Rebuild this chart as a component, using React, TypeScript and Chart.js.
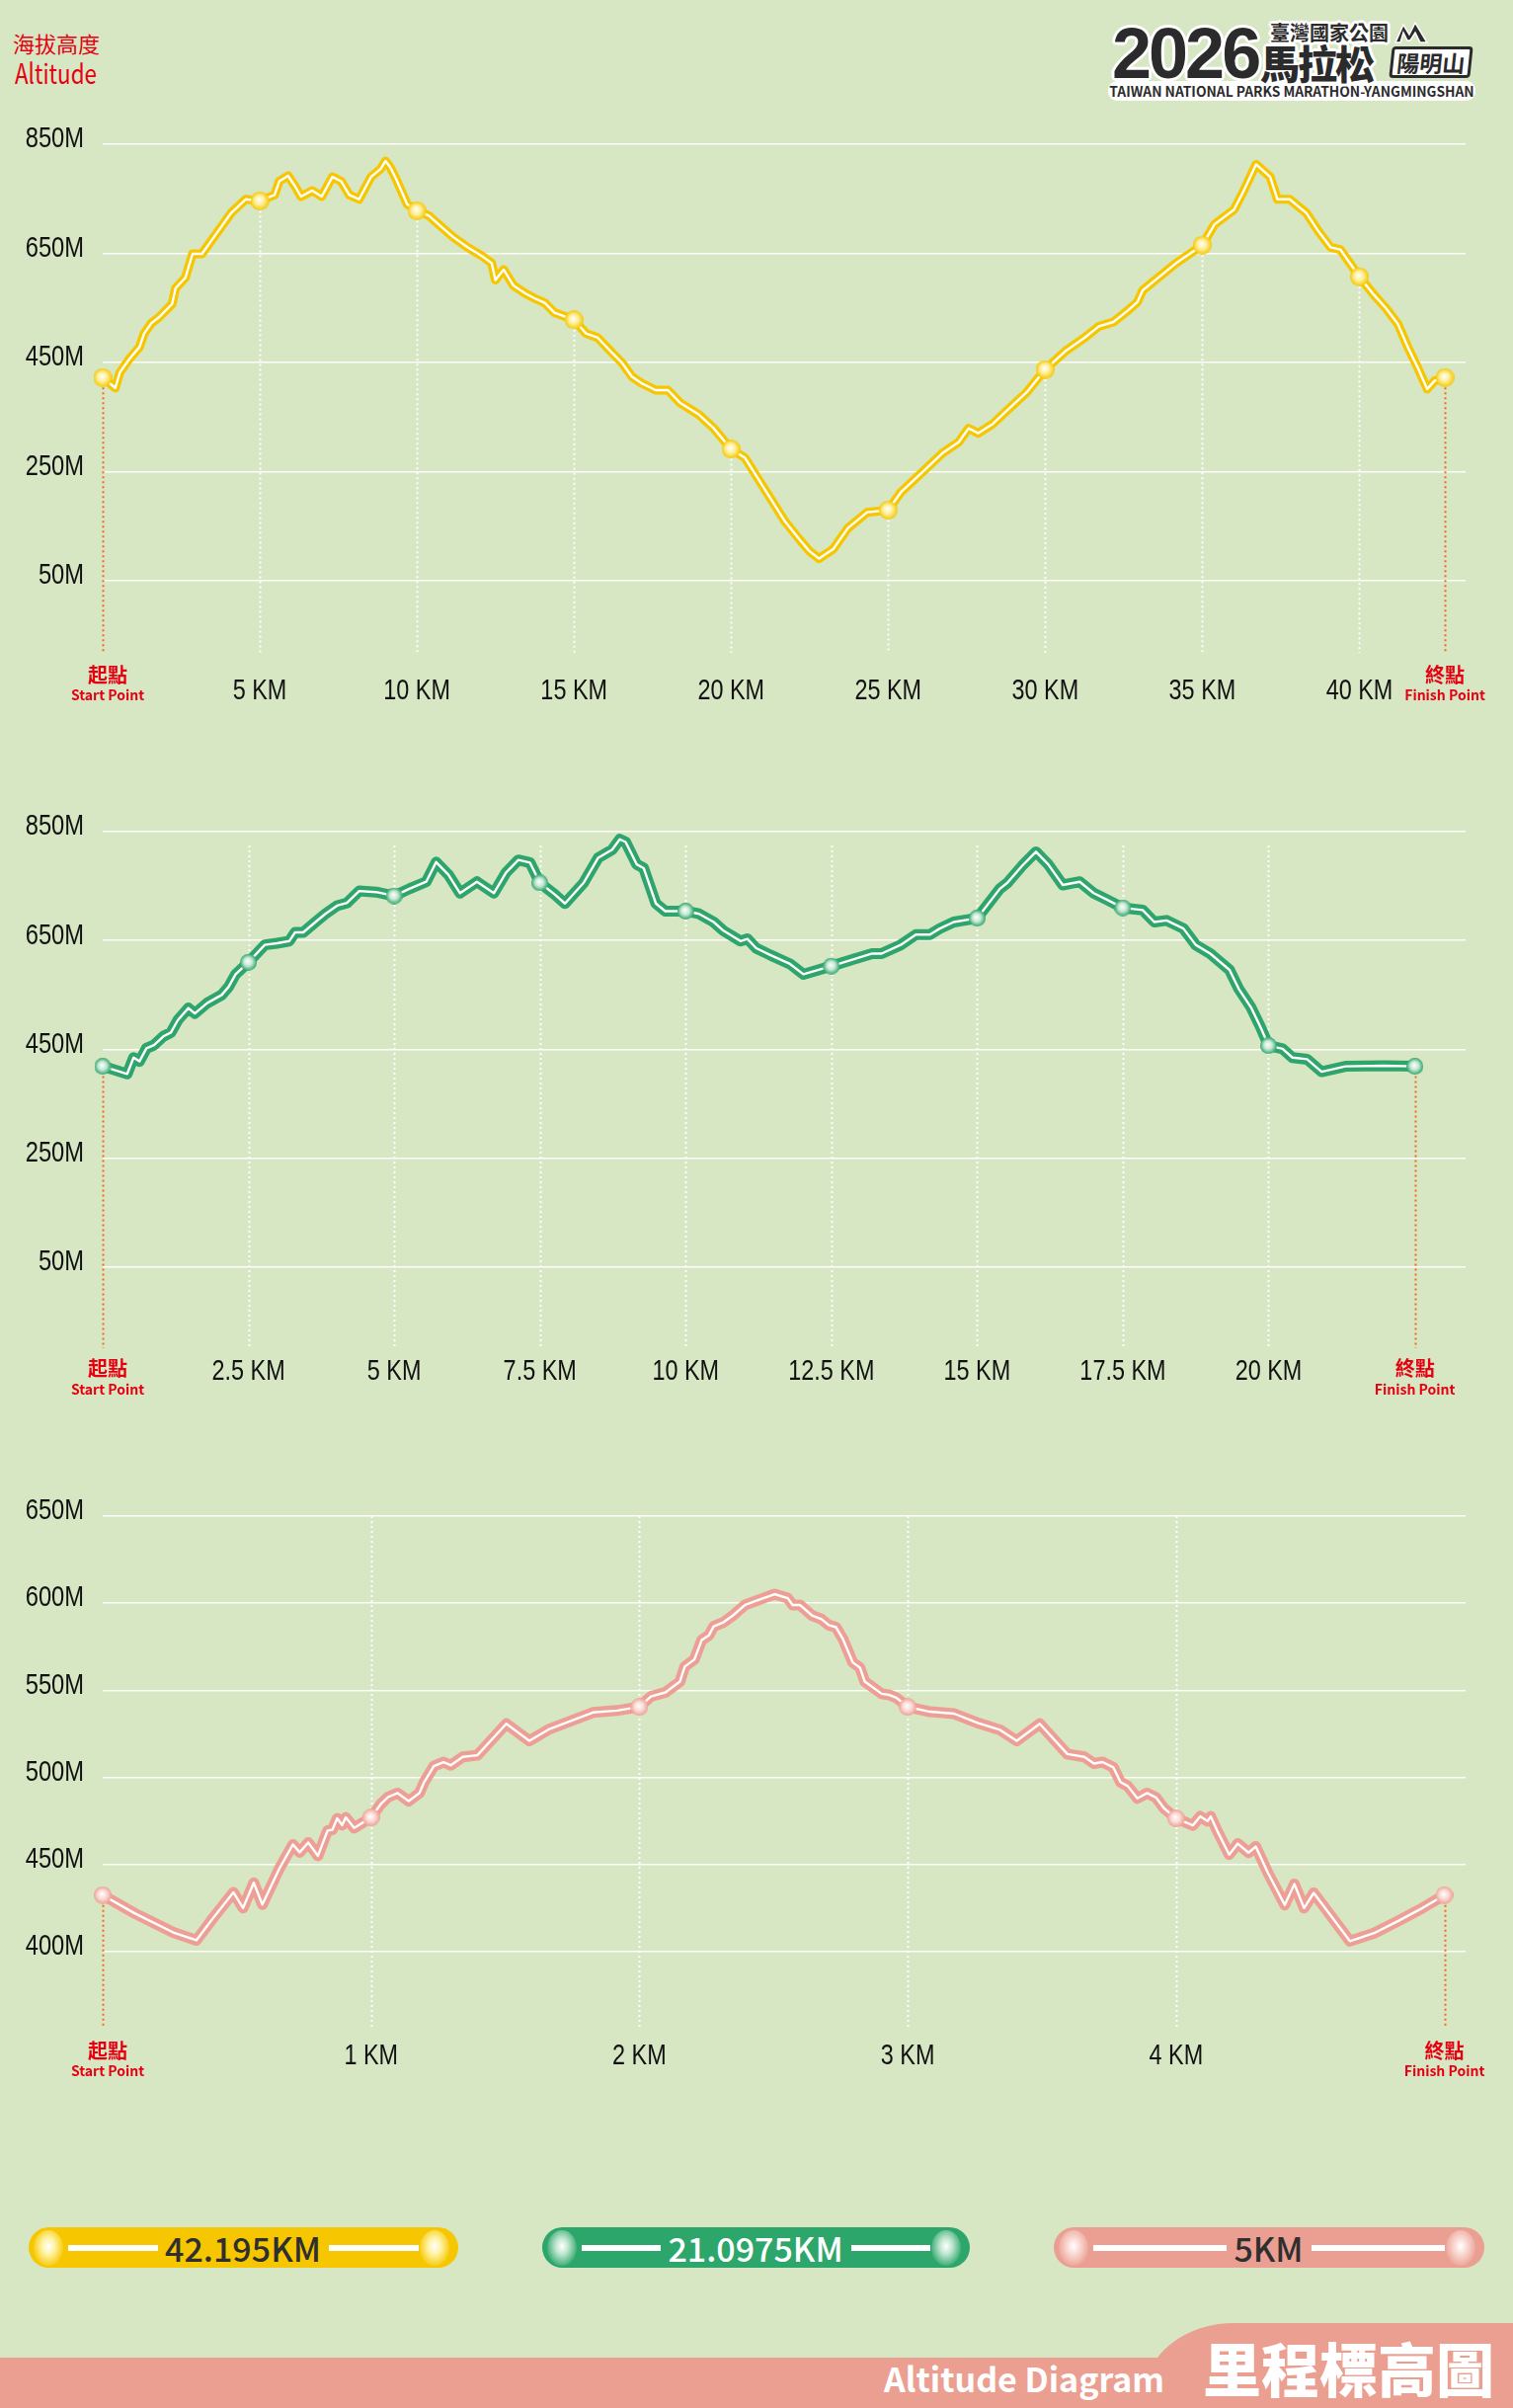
import React, { useEffect, useRef } from 'react';
import { Chart, registerables } from 'chart.js';

Chart.register(...registerables);

// ---------- Full marathon 42.195 KM ----------
const fullKm = [0, 0.4, 0.55, 0.86, 1.17, 1.32, 1.55, 1.78, 2.21, 2.32, 2.63, 2.86, 3.16, 3.47, 3.78, 4.09, 4.55, 5, 5.47, 5.62, 5.9, 6.12, 6.31, 6.67, 6.97, 7.31, 7.59, 7.85, 8.16, 8.54, 8.85, 9.0, 9.15, 9.34, 9.69, 10, 10.38, 10.77, 11.15, 11.61, 12.07, 12.38, 12.5, 12.76, 13.07, 13.46, 13.76, 14.07, 14.38, 15, 15.38, 15.76, 16.22, 16.53, 16.84, 17.14, 17.6, 17.99, 18.37, 18.98, 19.45, 20, 20.44, 20.8, 21.26, 21.72, 22.18, 22.49, 22.8, 23.26, 23.72, 24.33, 25, 25.41, 26.02, 26.72, 27.25, 27.56, 27.87, 28.33, 28.79, 29.41, 30, 30.63, 31.25, 31.71, 32.17, 32.63, 32.94, 33.1, 33.55, 34.17, 35, 35.39, 36.01, 36.32, 36.71, 37.16, 37.39, 37.78, 38.31, 38.7, 39.08, 39.39, 40, 40.46, 40.85, 41.23, 41.54, 41.85, 42.16, 42.39, 42.72];
const fullAlt = [422, 403, 432, 457, 478, 503, 522, 532, 557, 586, 605, 649, 649, 674, 699, 724, 749, 746, 757, 782, 792, 773, 754, 765, 754, 790, 782, 757, 749, 790, 805, 819, 808, 786, 740, 728, 719, 699, 680, 661, 645, 632, 601, 620, 591, 576, 567, 559, 541, 528, 503, 495, 467, 449, 424, 412, 399, 399, 376, 354, 329, 291, 275, 242, 200, 158, 125, 104, 90, 108, 146, 175, 179, 212, 245, 283, 304, 329, 320, 337, 362, 395, 437, 470, 495, 516, 524, 545, 561, 582, 603, 632, 665, 703, 730, 765, 813, 790, 749, 749, 724, 690, 661, 657, 607, 574, 549, 520, 478, 441, 401, 416, 422];
const fullMarkerKm = [0, 5, 10, 15, 20, 25, 30, 35, 40, 42.72];
const fullTickKm = [5, 10, 15, 20, 25, 30, 35, 40];
const fullTickLabels = ['5 KM', '10 KM', '15 KM', '20 KM', '25 KM', '30 KM', '35 KM', '40 KM'];
const fullYTicks = [50, 250, 450, 650, 850];

// ---------- Half marathon 21.0975 KM ----------
const halfKm = [0, 0.42, 0.53, 0.63, 0.75, 0.88, 1.04, 1.17, 1.29, 1.47, 1.58, 1.79, 2.04, 2.16, 2.28, 2.5, 2.78, 2.99, 3.2, 3.3, 3.44, 3.65, 3.82, 4.02, 4.19, 4.4, 4.69, 5, 5.26, 5.55, 5.72, 5.93, 6.13, 6.42, 6.71, 6.92, 7.13, 7.33, 7.5, 7.75, 7.93, 8.25, 8.5, 8.74, 8.87, 8.97, 9.16, 9.28, 9.49, 9.65, 10, 10.23, 10.48, 10.65, 10.94, 11.06, 11.21, 11.46, 11.79, 12.02, 12.5, 12.86, 13.2, 13.36, 13.69, 13.95, 14.19, 14.36, 14.6, 15, 15.39, 15.52, 15.77, 16.01, 16.22, 16.47, 16.76, 17.0, 17.21, 17.5, 17.84, 18.04, 18.25, 18.54, 18.75, 19.0, 19.33, 19.49, 19.7, 19.87, 20, 20.24, 20.41, 20.66, 20.91, 21.32, 21.98, 22.51];
const halfAlt = [419, 405, 435, 428, 452, 458, 474, 481, 504, 526, 516, 535, 550, 565, 588, 610, 642, 645, 649, 665, 665, 684, 699, 714, 719, 741, 739, 732, 745, 758, 794, 771, 737, 758, 737, 775, 798, 793, 756, 735, 718, 756, 802, 817, 836, 831, 790, 783, 718, 704, 704, 699, 684, 668, 649, 653, 636, 623, 607, 588, 603, 615, 626, 626, 642, 661, 661, 672, 684, 691, 745, 756, 787, 813, 790, 752, 758, 737, 726, 710, 706, 684, 687, 672, 642, 626, 596, 561, 527, 489, 457, 451, 435, 432, 409, 419, 420, 419];
const halfMarkerKm = [0, 2.5, 5, 7.5, 10, 12.5, 15, 17.5, 20, 22.51];
const halfTickKm = [2.5, 5, 7.5, 10, 12.5, 15, 17.5, 20];
const halfTickLabels = ['2.5 KM', '5 KM', '7.5 KM', '10 KM', '12.5 KM', '15 KM', '17.5 KM', '20 KM'];
const halfYTicks = [50, 250, 450, 650, 850];

// ---------- 5 KM ----------
const fiveKm = [0, 0.119, 0.263, 0.349, 0.415, 0.487, 0.523, 0.563, 0.595, 0.658, 0.709, 0.734, 0.766, 0.802, 0.838, 0.856, 0.874, 0.892, 0.906, 0.937, 1, 1.036, 1.063, 1.099, 1.14, 1.18, 1.198, 1.234, 1.27, 1.297, 1.342, 1.396, 1.504, 1.59, 1.665, 1.737, 1.827, 1.917, 2, 2.043, 2.097, 2.151, 2.169, 2.205, 2.232, 2.259, 2.277, 2.313, 2.349, 2.394, 2.454, 2.504, 2.553, 2.571, 2.598, 2.643, 2.679, 2.706, 2.733, 2.759, 2.795, 2.822, 2.84, 2.903, 2.93, 2.957, 3, 3.083, 3.173, 3.263, 3.344, 3.406, 3.492, 3.595, 3.658, 3.694, 3.726, 3.766, 3.793, 3.82, 3.856, 3.892, 3.925, 3.955, 4, 4.063, 4.09, 4.117, 4.129, 4.153, 4.198, 4.23, 4.27, 4.297, 4.342, 4.405, 4.441, 4.477, 4.513, 4.648, 4.738, 4.828, 4.918, 5];
const fiveAlt = [432.4, 422, 411, 406.5, 420, 434, 425, 439.5, 427, 447.6, 461.5, 457, 462.6, 455, 469.5, 470, 476.5, 472.6, 477, 471, 477, 484.6, 488.7, 491, 486.4, 491, 497.3, 506.5, 508.8, 507, 511.8, 512.7, 530.8, 521, 527.8, 532, 537.3, 538.4, 540.5, 546.5, 548.8, 555, 563.6, 567.7, 578.8, 581.6, 586.7, 589, 593, 599, 602.4, 605.2, 602.9, 599, 599, 593, 590.8, 587.4, 586.2, 579.3, 566, 563, 555, 548, 547.4, 545.8, 540.5, 537.7, 536.6, 531.2, 527.3, 521, 530.8, 513.4, 511.8, 508, 508.8, 505.8, 497.3, 495, 488, 491, 488.5, 482.3, 476.5, 472.5, 477.6, 474.9, 477.6, 469.5, 455.7, 462, 456.8, 460.3, 445.3, 426.8, 438.8, 425, 433.7, 406, 410.6, 417.6, 425, 432.4];
const fiveMarkerKm = [0, 1, 2, 3, 4, 5];
const fiveTickKm = [1, 2, 3, 4];
const fiveTickLabels = ['1 KM', '2 KM', '3 KM', '4 KM'];
const fiveYTicks = [400, 450, 500, 550, 600, 650];

const BG = '#d7e6c3';
const RED = '#e60012';
const SANS = '"Liberation Sans", Arial, sans-serif';
const CJK = '"Noto Sans CJK TC", "Noto Sans CJK SC", "Noto Sans", sans-serif';

function makeSphere(base: string, light: string, size: number) {
  const c = document.createElement('canvas');
  c.width = size;
  c.height = size;
  const g = c.getContext('2d')!;
  const r = size / 2;
  const grad = g.createRadialGradient(r * 0.9, r * 0.85, 0, r, r, r);
  grad.addColorStop(0, '#ffffff');
  grad.addColorStop(0.5, light);
  grad.addColorStop(1, base);
  g.fillStyle = grad;
  g.beginPath();
  g.arc(r, r, r, 0, Math.PI * 2);
  g.fill();
  return c;
}

function narrowText(ctx: CanvasRenderingContext2D, text: string, x: number, y: number, align: CanvasTextAlign, sx: number) {
  ctx.save();
  ctx.translate(x, y);
  ctx.scale(sx, 1);
  ctx.font = '30px ' + SANS;
  ctx.textAlign = align;
  ctx.textBaseline = 'middle';
  ctx.fillText(text, 0, 0);
  ctx.restore();
}

type Cfg = {
  km: number[];
  alt: number[];
  markerKm: number[];
  tickKm: number[];
  tickLabels: string[];
  yTicks: number[];
  yMin: number;
  yMax: number;
  xMax: number;
  color: string;
  light: string;
  lineWidth: number;
  markerSize: number;
  top: number;
  height: number;
  padTop: number;
  padBottom: number;
  dotFromLine: boolean;
  dotTop: number;
  labelDy: number;
  startDy1: number;
  startDy2: number;
};

function Profile({ cfg }: { cfg: Cfg }) {
  const ref = useRef<HTMLCanvasElement | null>(null);
  useEffect(() => {
    const canvas = ref.current;
    if (!canvas) return;
    const pts = cfg.km.map((x, i) => ({ x, y: cfg.alt[i] }));
    const pts2 = cfg.km.map((x, i) => ({ x, y: cfg.alt[i] }));
    const markerSet = new Set(cfg.markerKm);
    const sphere = makeSphere(cfg.color, cfg.light, cfg.markerSize);
    const finishKm = cfg.markerKm[cfg.markerKm.length - 1];
    const altAt = (k: number) => {
      const i = cfg.km.indexOf(k);
      return i >= 0 ? cfg.alt[i] : cfg.yMax;
    };
    const decor = {
      id: 'decor',
      beforeDatasetsDraw(chart: any) {
        const { ctx, chartArea } = chart;
        const xs = chart.scales.x;
        const ys = chart.scales.y;
        ctx.save();
        ctx.lineWidth = 2;
        ctx.setLineDash([2, 3]);
        ctx.strokeStyle = 'rgba(255,255,255,0.95)';
        cfg.tickKm.forEach((k) => {
          const px = Math.round(xs.getPixelForValue(k)) + 0.5;
          const top = cfg.dotFromLine ? ys.getPixelForValue(altAt(k)) : chartArea.top + cfg.dotTop;
          ctx.beginPath();
          ctx.moveTo(px, top);
          ctx.lineTo(px, chartArea.bottom);
          ctx.stroke();
        });
        ctx.strokeStyle = '#f26b1d';
        [0, finishKm].forEach((k) => {
          const px = Math.round(xs.getPixelForValue(k)) + 0.5;
          const top = ys.getPixelForValue(altAt(k));
          ctx.beginPath();
          ctx.moveTo(px, top);
          ctx.lineTo(px, chartArea.bottom);
          ctx.stroke();
        });
        ctx.restore();
        ctx.save();
        ctx.fillStyle = '#111111';
        cfg.yTicks.forEach((v) => {
          narrowText(ctx, v + 'M', 85, ys.getPixelForValue(v) - 5, 'right', 0.79);
        });
        ctx.restore();
      },
      afterDraw(chart: any) {
        const { ctx, chartArea } = chart;
        const xs = chart.scales.x;
        ctx.save();
        ctx.fillStyle = '#111111';
        cfg.tickKm.forEach((k, i) => {
          narrowText(ctx, cfg.tickLabels[i], xs.getPixelForValue(k), chartArea.bottom + cfg.labelDy, 'center', 0.78);
        });
        ctx.textAlign = 'center';
        ctx.textBaseline = 'middle';
        ctx.fillStyle = RED;
        const sx = xs.getPixelForValue(0) + 5;
        const fx = xs.getPixelForValue(finishKm);
        ctx.font = 'bold 20px ' + CJK;
        ctx.fillText('起點', sx, chartArea.bottom + cfg.startDy1);
        ctx.fillText('終點', fx, chartArea.bottom + cfg.startDy1);
        ctx.font = 'bold 14px ' + CJK;
        ctx.fillText('Start Point', sx, chartArea.bottom + cfg.startDy2);
        ctx.fillText('Finish Point', fx, chartArea.bottom + cfg.startDy2);
        ctx.restore();
      },
    };
    const chart = new Chart(canvas, {
      type: 'line',
      data: {
        datasets: [
          {
            data: pts2,
            borderColor: '#ffffff',
            borderWidth: 2.4,
            tension: 0,
            clip: false,
            borderJoinStyle: 'round',
            pointRadius: (c: any) => (c.raw && markerSet.has(c.raw.x) ? 9 : 0),
            pointHoverRadius: 0,
            pointHitRadius: 0,
            pointStyle: sphere as any,
          } as any,
          {
            data: pts,
            borderColor: cfg.color,
            borderWidth: cfg.lineWidth,
            pointRadius: 0,
            pointHoverRadius: 0,
            tension: 0,
            clip: false,
            borderJoinStyle: 'round',
            borderCapStyle: 'round',
          } as any,
        ],
      },
      options: {
        animation: false,
        responsive: false,
        events: [],
        layout: { padding: { top: cfg.padTop, right: 48, bottom: cfg.padBottom, left: 0 } },
        plugins: { legend: { display: false }, tooltip: { enabled: false } },
        scales: {
          x: { type: 'linear', min: 0, max: cfg.xMax, display: false },
          y: {
            min: cfg.yMin,
            max: cfg.yMax,
            afterBuildTicks: (s: any) => {
              s.ticks = cfg.yTicks.map((v) => ({ value: v }));
            },
            afterFit: (s: any) => {
              s.width = 104;
            },
            grid: { color: 'rgba(255,255,255,0.95)', lineWidth: 1.5, drawTicks: false },
            border: { display: false },
            ticks: { display: false },
          },
        },
      } as any,
      plugins: [decor],
    });
    return () => chart.destroy();
  }, [cfg]);
  return (
    <canvas
      ref={ref}
      width={1532}
      height={cfg.height}
      style={{ position: 'absolute', left: 0, top: cfg.top, width: 1532, height: cfg.height }}
    />
  );
}

const fullCfg: Cfg = {
  km: fullKm, alt: fullAlt, markerKm: fullMarkerKm, tickKm: fullTickKm, tickLabels: fullTickLabels,
  yTicks: fullYTicks, yMin: -82.8, yMax: 850, xMax: 43.38, color: '#f6c700', light: '#ffef9a', lineWidth: 9, markerSize: 19,
  top: 115, height: 625, padTop: 31, padBottom: 79, dotFromLine: true, dotTop: 0, labelDy: 39, startDy1: 22, startDy2: 43,
};
const halfCfg: Cfg = {
  km: halfKm, alt: halfAlt, markerKm: halfMarkerKm, tickKm: halfTickKm, tickLabels: halfTickLabels,
  yTicks: halfYTicks, yMin: -98.8, yMax: 850, xMax: 23.38, color: '#2ea56b', light: '#c6e8d3', lineWidth: 11, markerSize: 17,
  top: 800, height: 640, padTop: 42, padBottom: 75, dotFromLine: false, dotTop: 14, labelDy: 24, startDy1: 20, startDy2: 42,
};
const fiveCfg: Cfg = {
  km: fiveKm, alt: fiveAlt, markerKm: fiveMarkerKm, tickKm: fiveTickKm, tickLabels: fiveTickLabels,
  yTicks: fiveYTicks, yMin: 356.3, yMax: 650, xMax: 5.079, color: '#ee9f95', light: '#fbdcd6', lineWidth: 11, markerSize: 18,
  top: 1490, height: 640, padTop: 45, padBottom: 77, dotFromLine: false, dotTop: 0, labelDy: 29, startDy1: 23, startDy2: 44,
};

function PillSphere({ color, light }: { color: string; light: string }) {
  return (
    <div
      style={{
        width: 30,
        height: 36,
        borderRadius: '50%',
        flex: '0 0 auto',
        background: `radial-gradient(ellipse at 50% 45%, #ffffff 0%, ${light} 30%, ${color} 78%)`,
      }}
    />
  );
}

function Pill(props: { left: number; width: number; color: string; light: string; text: string; textColor: string }) {
  const { left, width, color, light, text, textColor } = props;
  const bar = { flex: 1, height: 6, background: '#ffffff' } as React.CSSProperties;
  return (
    <div
      style={{
        position: 'absolute', left, top: 2255, width, height: 41, borderRadius: 21, background: color,
        display: 'flex', alignItems: 'center', padding: '0 9px 0 5px', boxSizing: 'border-box',
      }}
    >
      <PillSphere color={color} light={light} />
      <div style={{ ...bar, marginLeft: 5, marginRight: 7 }} />
      <span style={{ fontFamily: CJK, fontSize: 34, fontWeight: 500, color: textColor, lineHeight: '41px', whiteSpace: 'nowrap' }}>{text}</span>
      <div style={{ ...bar, marginLeft: 8, marginRight: 1 }} />
      <PillSphere color={color} light={light} />
    </div>
  );
}

const outline = '#ffffff';
const stroke = [
  `3px 0 0 ${outline}`, `-3px 0 0 ${outline}`, `0 3px 0 ${outline}`, `0 -3px 0 ${outline}`,
  `2px 2px 0 ${outline}`, `-2px 2px 0 ${outline}`, `2px -2px 0 ${outline}`, `-2px -2px 0 ${outline}`,
].join(', ');

function Logo() {
  const dark = '#2b2b2b';
  const abs = { position: 'absolute', whiteSpace: 'nowrap' } as React.CSSProperties;
  return (
    <div style={{ position: 'absolute', left: 0, top: 0, width: 1532, height: 110 }}>
      <div style={{ ...abs, left: 1122, top: 82, width: 372, height: 20, borderRadius: 9, background: '#ffffff' }} />
      <div style={{ ...abs, left: 1122, top: 82, width: 372, height: 20, lineHeight: '20px', textAlign: 'center', fontFamily: CJK, fontWeight: 700, fontSize: 13.8, color: dark }}>
        TAIWAN NATIONAL PARKS MARATHON-YANGMINGSHAN
      </div>
      <div style={{ ...abs, left: 1126, top: 18, fontFamily: SANS, fontWeight: 700, fontSize: 72, lineHeight: '72px', letterSpacing: -3, color: dark, textShadow: stroke }}>
        2026
      </div>
      <div style={{ ...abs, left: 1286, top: 22, fontFamily: CJK, fontWeight: 700, fontSize: 20, lineHeight: '22px', color: dark, textShadow: stroke }}>
        臺灣國家公園
      </div>
      <svg style={{ position: 'absolute', left: 1412, top: 22 }} width={34} height={22} viewBox="0 0 34 22">
        <path d="M1 21 L9 3 L15 13 L21 1 L33 21 L26 21 L21 11 L16 19 L13 19 L9 11 L6 21 Z" fill={dark} stroke="#ffffff" strokeWidth={1.5} />
      </svg>
      <div style={{ ...abs, left: 1276, top: 42, fontFamily: CJK, fontWeight: 900, fontSize: 40, lineHeight: '42px', letterSpacing: -2, color: dark, textShadow: stroke }}>
        馬拉松
      </div>
      <div style={{ ...abs, left: 1408, top: 47, width: 82, height: 32, boxSizing: 'border-box', border: `3px solid ${dark}`, borderRadius: 4, background: '#ffffff', fontFamily: CJK, fontWeight: 700, fontSize: 23, lineHeight: '26px', textAlign: 'center', color: dark, transform: 'skewX(-6deg)' }}>
        陽明山
      </div>
    </div>
  );
}

export default function App() {
  return (
    <div style={{ position: 'absolute', left: 0, top: 0, width: 1532, height: 2438, background: BG, overflow: 'hidden' }}>
      <div style={{ position: 'absolute', left: 13, top: 31, fontFamily: CJK, fontSize: 22, lineHeight: '24px', color: RED, whiteSpace: 'nowrap' }}>海拔高度</div>
      <div style={{ position: 'absolute', left: 15, top: 58, fontFamily: CJK, fontSize: 28, lineHeight: '30px', color: RED, whiteSpace: 'nowrap', transform: 'scaleX(0.8)', transformOrigin: 'left center' }}>Altitude</div>
      <Logo />
      <Profile cfg={fullCfg} />
      <Profile cfg={halfCfg} />
      <Profile cfg={fiveCfg} />
      <Pill left={29} width={435} color="#f6c700" light="#fff3a6" text="42.195KM" textColor="#2f2f2f" />
      <Pill left={549} width={433} color="#2ca66a" light="#bfe5cf" text="21.0975KM" textColor="#ffffff" />
      <Pill left={1067} width={436} color="#eb9f92" light="#fad9d3" text="5KM" textColor="#2f2f2f" />
      <div style={{ position: 'absolute', left: 0, top: 2387, width: 1532, height: 51, background: '#eb9f91' }} />
      <div style={{ position: 'absolute', left: 1160, top: 2352, width: 372, height: 86, background: '#eb9f91', borderTopLeftRadius: '90px 70px' }} />
      <div style={{ position: 'absolute', left: 895, top: 2391, fontFamily: CJK, fontWeight: 700, fontSize: 34, lineHeight: '34px', color: '#ffffff', whiteSpace: 'nowrap' }}>Altitude Diagram</div>
      <div style={{ position: 'absolute', left: 1218, top: 2367, fontFamily: CJK, fontWeight: 900, fontSize: 59, lineHeight: '59px', color: '#ffffff', whiteSpace: 'nowrap' }}>里程標高圖</div>
    </div>
  );
}
